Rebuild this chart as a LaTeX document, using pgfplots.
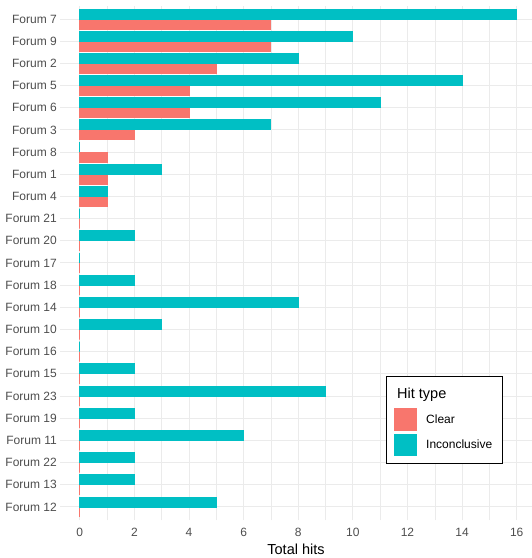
\documentclass[border=0pt]{standalone}
\usepackage{pgfplots}
\usepackage{pgfplotstable}
\pgfplotsset{compat=1.18}
\usepackage{fontspec}
\setmainfont{Liberation Sans}
\definecolor{clearcol}{HTML}{F8766D}
\definecolor{inconcol}{HTML}{00BFC4}
\definecolor{gridcol}{HTML}{EBEBEB}
\definecolor{tickcol}{HTML}{4D4D4D}

\pgfplotstableread{
idx clear incon
0 0 5
1 0 2
2 0 2
3 0 6
4 0 2
5 0 9
6 0 2
7 0 0
8 0 3
9 0 8
10 0 2
11 0 0
12 0 2
13 0 0
14 1 1
15 1 3
16 1 0
17 2 7
18 4 11
19 4 14
20 5 8
21 7 10
22 7 16
}\hitdata

\begin{document}
\begin{tikzpicture}
\useasboundingbox (0,0) rectangle (532bp,558bp);
\begin{axis}[
  at={(60bp,37.7bp)}, anchor=south west,
  scale only axis, width=472bp, height=514.6bp,
  xmin=-0.725, xmax=16.56, ymin=-0.6, ymax=22.6,
  xbar, bar width=0.45,
  xtick={0,2,...,16}, minor xtick={1,3,...,15},
  ytick={0,...,22},
  yticklabels={Forum 12,Forum 13,Forum 22,Forum 11,Forum 19,Forum 23,Forum 15,Forum 16,Forum 10,Forum 14,Forum 18,Forum 17,Forum 20,Forum 21,Forum 4,Forum 1,Forum 8,Forum 3,Forum 6,Forum 5,Forum 2,Forum 9,Forum 7},
  grid=both,
  major grid style={draw=gridcol, line width=1bp},
  minor grid style={draw=gridcol, line width=0.5bp},
  axis line style={draw=none},
  major tick length=0pt, minor tick length=0pt,
  tick label style={font=\fontsize{12bp}{14bp}\selectfont, text=tickcol},
  /pgf/number format/assume math mode=true,
  xticklabel style={anchor=base, yshift=-16.4bp, inner sep=0pt},
  yticklabel style={anchor=east, inner sep=0pt, xshift=-3bp},
  xlabel={Total hits},
  xlabel style={at={(axis description cs:0.5,-0.0661)}, anchor=base, font=\fontsize{14.5bp}{17bp}\selectfont, inner sep=0pt},
  legend cell align=left,
  legend style={at={(0.6907,0.2804)}, anchor=north west, draw=black, line width=0.6bp, fill=white,
    inner xsep=8bp, inner ysep=7.6bp, row sep=2.7bp, column sep=7bp,
    font=\fontsize{12bp}{14bp}\selectfont, cells={anchor=west, inner sep=0pt}},
]
\addlegendimage{legend image code/.code={\path[draw=none,fill=none] (0bp,-12bp) rectangle (0bp,9.8bp);}}
\addlegendentry{\hspace*{-29bp}\fontsize{14.5bp}{17bp}\selectfont Hit type}
\addplot[fill=clearcol, draw=clearcol, line width=0.9bp, bar shift=-0.225,
  legend image code/.code={\fill[clearcol] (0bp,-10.75bp) rectangle (22bp,10.75bp);}]
  table[x=clear, y=idx] {\hitdata};
\addlegendentry{Clear}
\addplot[fill=inconcol, draw=inconcol, line width=0.9bp, bar shift=0.225,
  legend image code/.code={\fill[inconcol] (0bp,-10.75bp) rectangle (22bp,10.75bp);}]
  table[x=incon, y=idx] {\hitdata};
\addlegendentry{Inconclusive}
\end{axis}
\end{tikzpicture}
\end{document}
